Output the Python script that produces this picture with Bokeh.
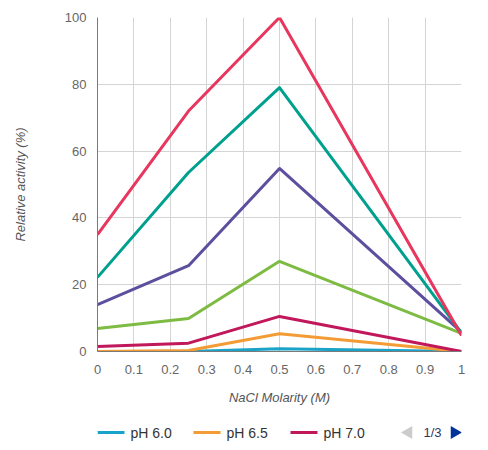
import math
from bokeh.plotting import figure
from bokeh.layouts import column
from bokeh.models import Range1d, FixedTicker
from bokeh.core.properties import value
from bokeh.embed import file_html
from bokeh.resources import INLINE

x_vals = [0, 0.25, 0.5, 1]
series_names = ["pH 6.0", "pH 6.5", "pH 7.0", "pH 7.5", "pH 8.0", "pH 8.5", "pH 9.0"]
series_values = [
    [0, 0, 0.8, 0],
    [0, 0.3, 5.3, 0],
    [1.5, 2.5, 10.5, 0],
    [6.9, 9.9, 27, 5.4],
    [14, 25.7, 54.8, 5.8],
    [22.2, 53.6, 79, 5.6],
    [35, 72, 100, 4.8],
]
series_colors = ["#1aa3c8", "#f39c35", "#c0185a", "#7dbb42", "#5d4f9e", "#00a08e", "#e8375f"]
x_ticks = [0, 0.1, 0.2, 0.3, 0.4, 0.5, 0.6, 0.7, 0.8, 0.9, 1]
x_tick_labels = ["0", "0.1", "0.2", "0.3", "0.4", "0.5", "0.6", "0.7", "0.8", "0.9", "1"]
y_ticks = [0, 20, 40, 60, 80, 100]
pager_text = "1/3"

FONT = "Liberation Sans"
W = 480
BL, BR = 97, 19

p = figure(width=W, height=415, output_backend="svg", toolbar_location=None,
           x_range=Range1d(0, 1), y_range=Range1d(0, 100),
           min_border_left=BL, min_border_right=BR, min_border_top=17, min_border_bottom=64)
p.outline_line_color = None

for name, vals, col in zip(series_names, series_values, series_colors):
    p.line(x_vals, vals, line_color=col, line_width=3, line_join="round")

for ax in (p.xaxis[0], p.yaxis[0]):
    ax.axis_line_color = "#7a7a7a"
    ax.axis_line_width = 1
    ax.major_tick_line_color = None
    ax.minor_tick_line_color = None
    ax.major_label_text_color = "#666666"
    ax.major_label_text_font = FONT
    ax.major_label_text_font_size = "13px"
    ax.axis_label_text_font = FONT
    ax.axis_label_text_font_style = "italic"
    ax.axis_label_text_font_size = "13px"
    ax.axis_label_text_color = "#555555"

p.xaxis.ticker = FixedTicker(ticks=x_ticks)
p.xaxis.major_label_overrides = {t: l for t, l in zip(x_ticks, x_tick_labels)}
p.yaxis.ticker = FixedTicker(ticks=y_ticks)
p.xaxis.axis_label = "NaCl Molarity (M)"
p.yaxis.axis_label = "Relative activity (%)"
p.xaxis.major_label_standoff = 7
p.xaxis.axis_label_standoff = 13
p.yaxis.major_label_standoff = 5
p.yaxis.axis_label_standoff = 34

p.xgrid.grid_line_color = "#d4d4d4"
p.ygrid.grid_line_color = "#d4d4d4"
p.xgrid.ticker = FixedTicker(ticks=x_ticks)
p.ygrid.ticker = FixedTicker(ticks=y_ticks)

# legend strip (first page of a paged legend); its frame lines up with the plot frame,
# so the x range is expressed in page pixels
LH = 27
leg = figure(width=W, height=LH, output_backend="svg", toolbar_location=None,
             x_range=Range1d(BL, W - BR), y_range=Range1d(0, LH),
             min_border_left=BL, min_border_right=BR, min_border_top=0, min_border_bottom=0,
             x_axis_type=None, y_axis_type=None)
leg.outline_line_color = None
leg.grid.visible = False

sym_x0 = [97, 193, 290]
yc = 10
for i in range(3):
    leg.segment(x0=sym_x0[i], y0=yc, x1=sym_x0[i] + 27, y1=yc,
                line_color=series_colors[i], line_width=3)
    leg.text(x=[sym_x0[i] + 33], y=[yc], text=[series_names[i]],
             text_font=value(FONT), text_font_size="14px", text_color="#333333",
             text_baseline="middle", text_align="left")

leg.scatter(x=[408], y=[yc], marker="triangle", size=13, angle=math.pi / 2,
            fill_color="#cccccc", line_color=None)
leg.text(x=[423], y=[yc], text=[pager_text], text_font=value(FONT), text_font_size="13px",
         text_color="#333366", text_baseline="middle", text_align="left")
leg.scatter(x=[454], y=[yc], marker="triangle", size=13, angle=-math.pi / 2,
            fill_color="#003399", line_color=None)

layout = column(p, leg, spacing=0)
open("out.html", "w").write(file_html(layout, INLINE))
